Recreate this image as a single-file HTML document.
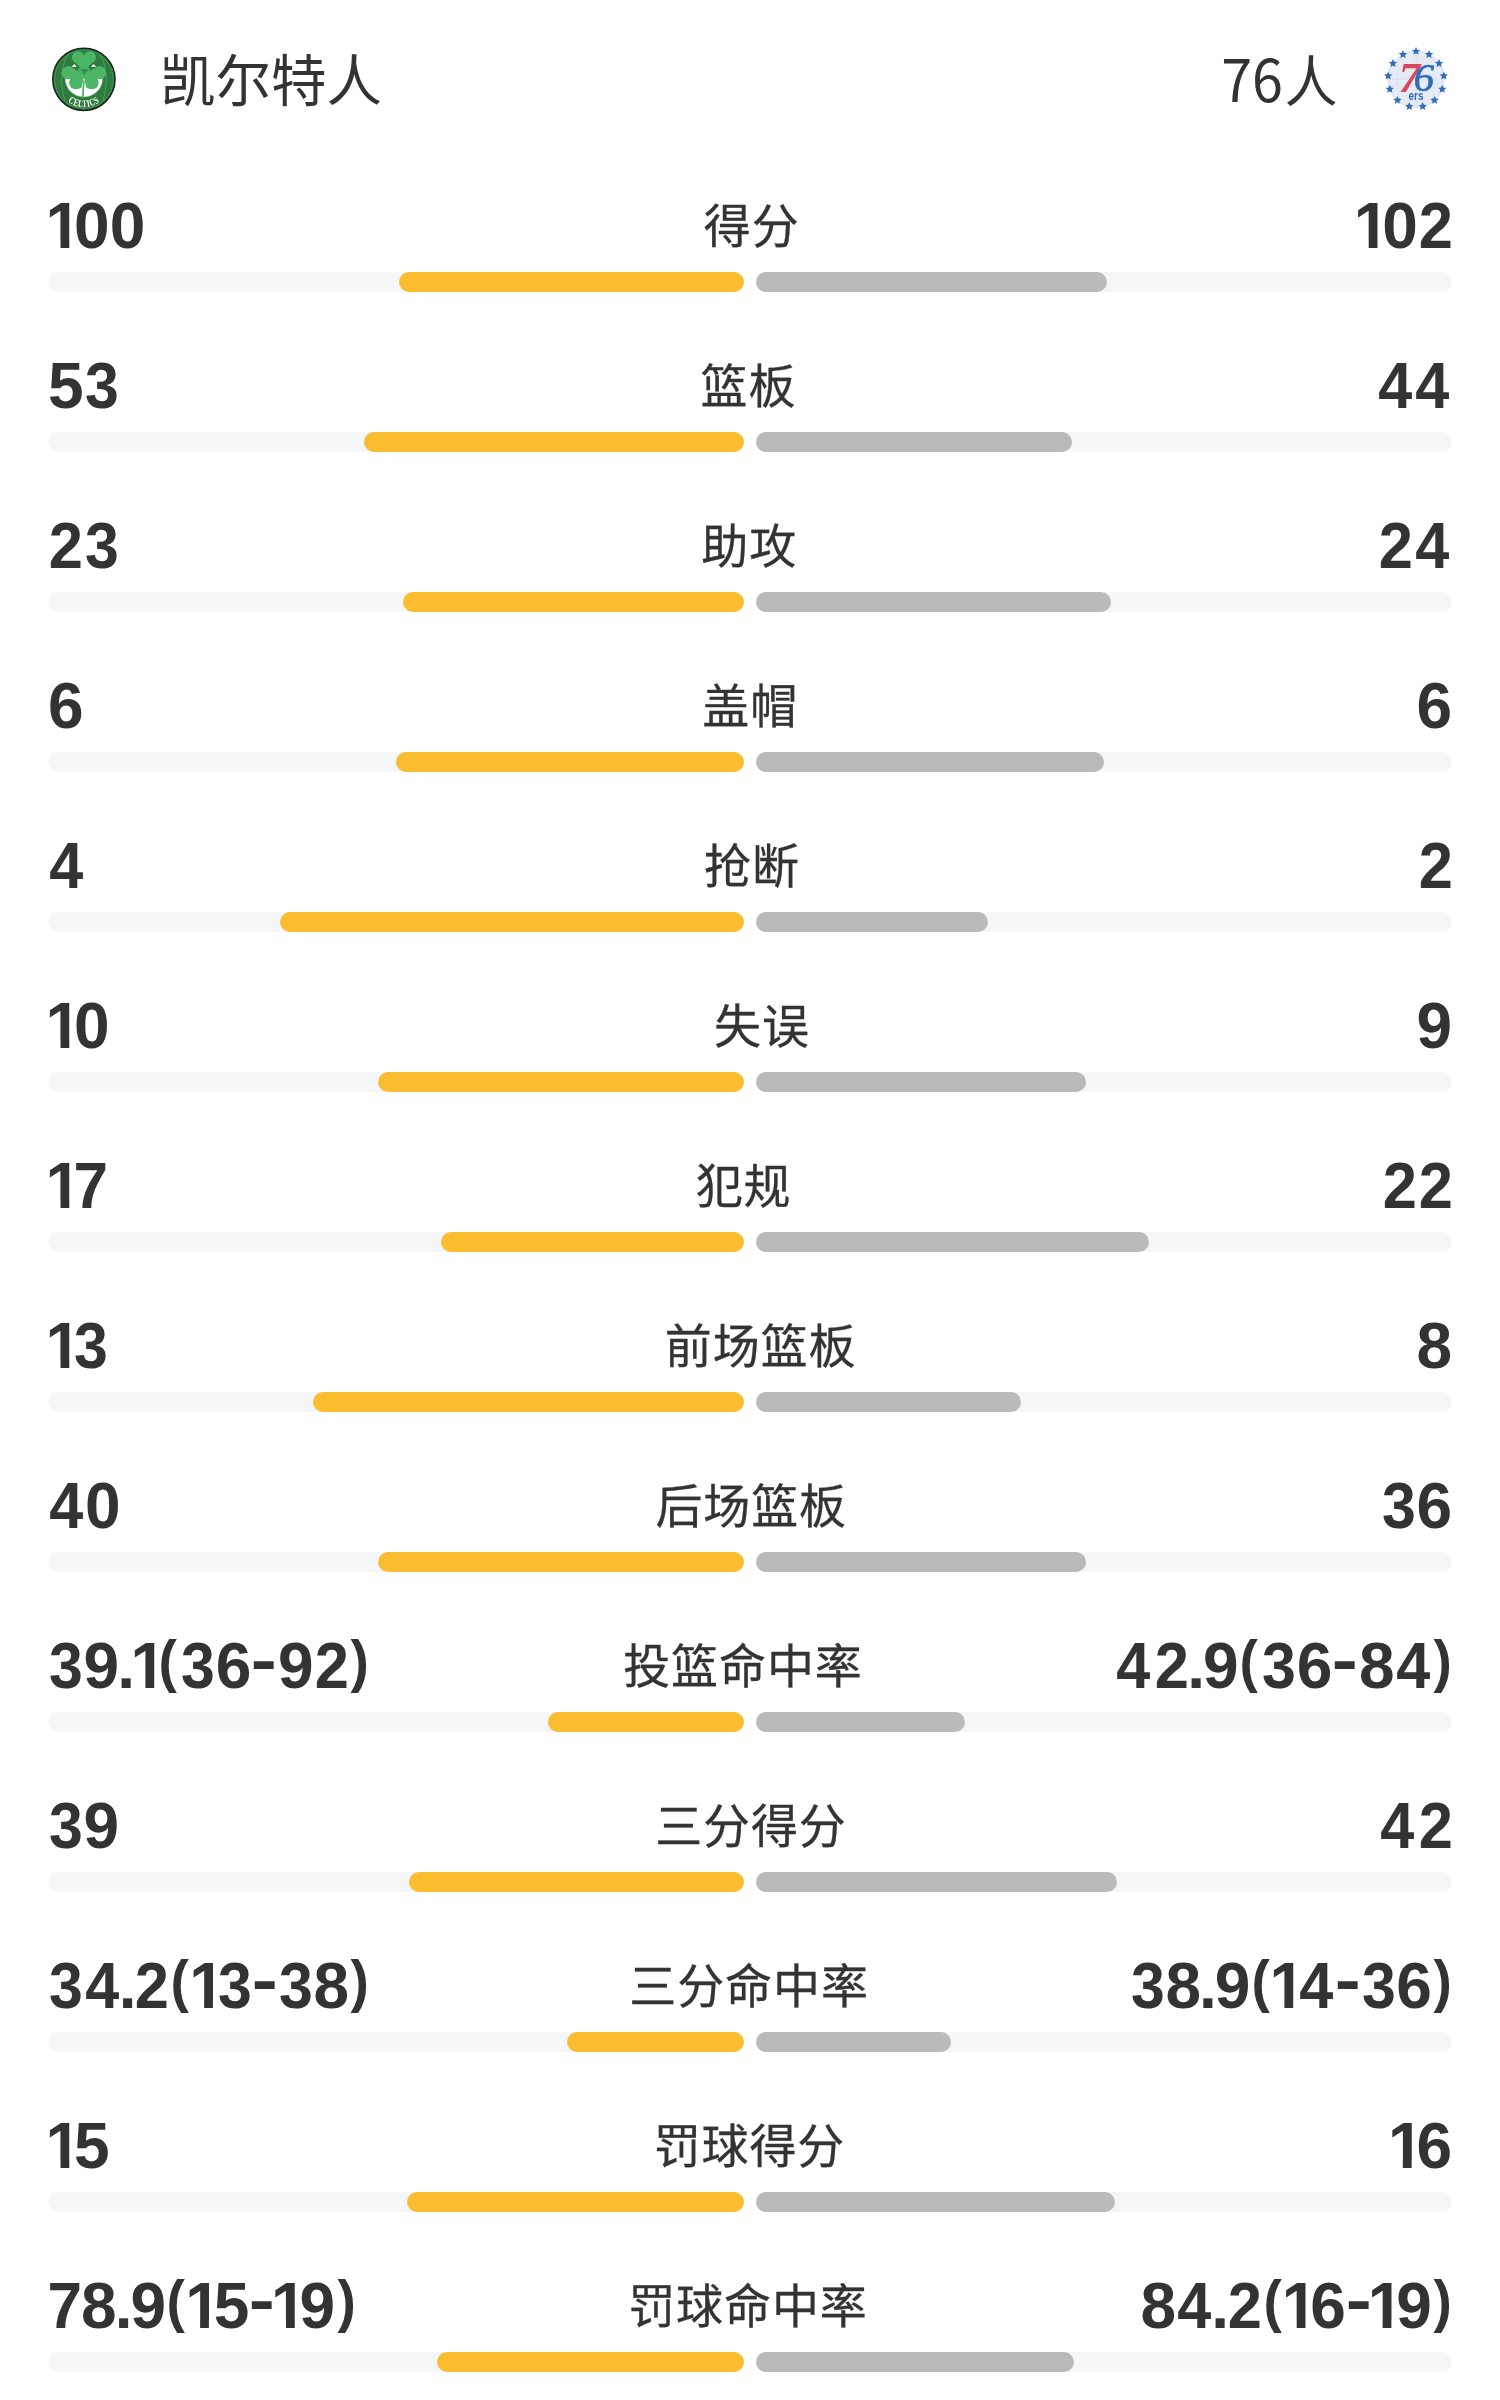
<!DOCTYPE html>
<html lang="zh-CN"><head><meta charset="utf-8"><title>球队数据对比</title>
<style>
*{margin:0;padding:0;box-sizing:border-box}
html,body{width:1500px;height:2400px;background:#fff;overflow:hidden}
body{position:relative;will-change:transform;font-family:"Liberation Sans","Noto Sans CJK SC",sans-serif;color:#333}
.hdr{position:absolute;left:0;top:0;width:1500px;height:160px}
.tname{position:absolute;font-family:"Noto Sans CJK SC",sans-serif;font-size:55.5px;line-height:64px;color:#333;white-space:nowrap}
.d76{display:inline-block;font-size:58.5px;transform-origin:100% 50%;transform:scaleX(0.95);margin-right:-0.9px}
.ren{display:inline-block;transform-origin:100% 50%;transform:scaleX(0.95)}
.logo{position:absolute;display:block}
.row{position:absolute;left:48px;width:1404px;height:160px}
.vals{position:absolute;left:0;top:194px;width:1404px;height:64px;display:flex;align-items:flex-start}
.n{font-family:"Liberation Sans",sans-serif;font-weight:700;font-size:64px;line-height:64px;height:64px;white-space:nowrap;color:#333}
.n span{display:inline-block}
.g1{clip-path:polygon(0 0,100% 0,100% 47px,23.7px 47px,23.7px 100%,14.9px 100%,14.9px 47px,0 47px);margin-left:-2.4px;margin-right:-7.1px}
.g4{transform:translateX(0.4px) scaleX(0.955);margin-right:1.5px}
.g4.e{margin-right:2.4px}
.g2{transform:scaleX(0.96)}
.g2.e{margin-right:-1.5px}
.g3{transform:scaleX(0.95)}
.g7{margin-left:-1.5px;margin-right:-1px;transform:scaleX(0.97)}
.gd{margin-left:-2px;margin-right:-2.1px}
.gl{margin-left:-0.7px;margin-right:2px;transform-origin:50% 37.5px;transform:translateY(-5px) scale(0.86,0.883)}
.gr{margin-left:0.3px;margin-right:-1.4px;transform-origin:50% 37.5px;transform:translateY(-5px) scale(0.86,0.883)}
.gh{margin-left:2.1px;margin-right:3.3px;transform:translateY(-6.5px) scaleX(1.22)}
.lab{flex:1;text-align:center;font-family:"Noto Sans CJK SC",sans-serif;font-size:47px;line-height:58px;letter-spacing:0.9px;text-indent:0.9px;-webkit-text-stroke:0.3px #333;white-space:nowrap;color:#333}
.trk{position:absolute;top:272px;width:696px;height:20px;border-radius:10px;background:#f5f6f8}
.trk.l{left:0}
.trk.r{left:708px}
.trk i{position:absolute;top:0;height:20px;border-radius:10px;display:block}
.trk.l i{right:0;background:#fbbc2f}
.trk.r i{left:0;background:#bababa}
</style></head><body>
<div class="hdr">
<svg class="logo" style="left:44px;top:40px" width="80" height="80" viewBox="0 0 1500 1500"><defs><path id="cArc" d="M 228 738 A 520 520 0 0 0 1268 738"/></defs><circle cx="748" cy="738" r="584" fill="#2e7b3f" stroke="#17251b" stroke-width="28"/><circle cx="748" cy="738" r="548" fill="none" stroke="#62a870" stroke-width="10"/><path d="M 455 265 C 300 500 300 900 395 1130" fill="none" stroke="#5aa86a" stroke-width="14"/><path d="M 1041 265 C 1196 500 1196 900 1101 1130" fill="none" stroke="#5aa86a" stroke-width="14"/><path d="M 392 715 L 1104 715 A 356 356 0 0 1 392 715 Z" fill="#ffffff"/><path d="M 392 715 A 356 356 0 0 0 1104 715" fill="none" stroke="#3f9150" stroke-width="10"/><polygon points="515,500 575,450 610,505" fill="#ffffff"/><polygon points="981,500 921,450 886,505" fill="#ffffff"/><path d="M 748 760 L 728 1085" stroke="#4db566" stroke-width="34" fill="none"/><circle cx="640" cy="325" r="116" fill="#4db566"/><circle cx="858" cy="325" r="116" fill="#4db566"/><polygon points="526,345 972,345 750,600" fill="#4db566"/><circle cx="452" cy="612" r="122" fill="#4db566"/><circle cx="592" cy="800" r="122" fill="#4db566"/><polygon points="400,502 480,495 760,640 700,900 600,922" fill="#4db566"/><circle cx="1044" cy="612" r="122" fill="#4db566"/><circle cx="904" cy="800" r="122" fill="#4db566"/><polygon points="1096,502 1016,495 736,640 796,900 896,922" fill="#4db566"/><polygon points="640,520 860,520 840,700 660,700" fill="#4db566"/><polygon points="688,545 838,545 752,662" fill="#3a8a52"/><text font-family="Liberation Serif, serif" font-weight="700" font-size="190" fill="#ffffff" letter-spacing="10"><textPath href="#cArc" startOffset="50%" text-anchor="middle" textLength="640" lengthAdjust="spacingAndGlyphs">CELTICS</textPath></text></svg>
<div class="tname" style="left:160px;top:45px">凯尔特人</div>
<div class="tname" style="right:162px;top:45px"><span class="d76">76</span><span class="ren">人</span></div>
<svg class="logo" style="left:1376px;top:40px" width="80" height="80" viewBox="0 0 1500 1500"><circle cx="750" cy="735" r="532" fill="#e6eaf4" stroke="#d4dae7" stroke-width="12"/><path d="M 220 735 L 1280 735 M 750 205 L 750 1265" stroke="#d4dae7" stroke-width="10" fill="none"/><path d="M 470 265 C 380 500 380 970 470 1205 M 1030 265 C 1120 500 1120 970 1030 1205" stroke="#d4dae7" stroke-width="9" fill="none"/><polygon points="750.0,130.0 772.3,181.3 828.0,186.7 786.1,223.7 798.2,278.3 750.0,250.0 701.8,278.3 713.9,223.7 672.0,186.7 727.7,181.3" fill="#2f6db8"/><polygon points="994.0,190.1 1016.3,241.4 1072.0,246.8 1030.1,283.9 1042.2,338.5 994.0,310.1 945.8,338.5 957.8,283.9 916.0,246.8 971.6,241.4" fill="#2f6db8"/><polygon points="1182.1,356.8 1204.4,408.0 1260.1,413.4 1218.2,450.5 1230.3,505.1 1182.1,476.8 1133.9,505.1 1145.9,450.5 1104.1,413.4 1159.7,408.0" fill="#2f6db8"/><polygon points="1271.2,591.7 1293.5,643.0 1349.2,648.4 1307.3,685.5 1319.4,740.1 1271.2,711.7 1223.0,740.1 1235.0,685.5 1193.2,648.4 1248.8,643.0" fill="#2f6db8"/><polygon points="1240.9,841.2 1263.2,892.4 1318.9,897.8 1277.0,934.9 1289.1,989.5 1240.9,961.2 1192.7,989.5 1204.7,934.9 1162.9,897.8 1218.5,892.4" fill="#2f6db8"/><polygon points="1098.1,1048.0 1120.5,1099.2 1176.1,1104.6 1134.3,1141.7 1146.3,1196.3 1098.1,1168.0 1049.9,1196.3 1062.0,1141.7 1020.2,1104.6 1075.8,1099.2" fill="#2f6db8"/><polygon points="875.6,1164.7 898.0,1216.0 953.6,1221.4 911.8,1258.5 923.8,1313.1 875.6,1284.7 827.4,1313.1 839.5,1258.5 797.7,1221.4 853.3,1216.0" fill="#2f6db8"/><polygon points="624.4,1164.7 646.7,1216.0 702.3,1221.4 660.5,1258.5 672.6,1313.1 624.4,1284.7 576.2,1313.1 588.2,1258.5 546.4,1221.4 602.0,1216.0" fill="#2f6db8"/><polygon points="401.9,1048.0 424.2,1099.2 479.8,1104.6 438.0,1141.7 450.1,1196.3 401.9,1168.0 353.7,1196.3 365.7,1141.7 323.9,1104.6 379.5,1099.2" fill="#2f6db8"/><polygon points="259.1,841.2 281.5,892.4 337.1,897.8 295.3,934.9 307.3,989.5 259.1,961.2 210.9,989.5 223.0,934.9 181.1,897.8 236.8,892.4" fill="#2f6db8"/><polygon points="228.8,591.7 251.2,643.0 306.8,648.4 265.0,685.5 277.0,740.1 228.8,711.7 180.6,740.1 192.7,685.5 150.8,648.4 206.5,643.0" fill="#2f6db8"/><polygon points="317.9,356.8 340.3,408.0 395.9,413.4 354.1,450.5 366.1,505.1 317.9,476.8 269.7,505.1 281.8,450.5 239.9,413.4 295.6,408.0" fill="#2f6db8"/><polygon points="506.0,190.1 528.4,241.4 584.0,246.8 542.2,283.9 554.2,338.5 506.0,310.1 457.8,338.5 469.9,283.9 428.0,246.8 483.7,241.4" fill="#2f6db8"/><text x="625" y="968" text-anchor="middle" font-family="Liberation Serif, serif" font-style="italic" font-weight="700" font-size="800" fill="#d8475b">7</text><text x="900" y="948" text-anchor="middle" font-family="Liberation Serif, serif" font-style="italic" font-weight="400" font-size="760" fill="#2f6db8" stroke="#2f6db8" stroke-width="14">6</text><text x="750" y="1122" text-anchor="middle" font-family="Liberation Sans, sans-serif" font-weight="700" font-size="250" fill="#2f6db8" textLength="280" lengthAdjust="spacingAndGlyphs">ers</text></svg>
</div>
<div class="row" style="top:0px"><div class="vals"><span class="n"><span class="g1">1</span>00</span><span class="lab" style="position:relative;left:0.5px">得分</span><span class="n"><span class="g1">1</span>0<span class="g2 e">2</span></span></div><div class="trk l"><i style="width:344.55px"></i></div><div class="trk r"><i style="width:351.45px"></i></div></div>
<div class="row" style="top:160px"><div class="vals"><span class="n">5<span class="g3">3</span></span><span class="lab">篮板</span><span class="n"><span class="g4">4</span><span class="g4 e">4</span></span></div><div class="trk l"><i style="width:380.29px"></i></div><div class="trk r"><i style="width:315.71px"></i></div></div>
<div class="row" style="top:320px"><div class="vals"><span class="n"><span class="g2">2</span><span class="g3">3</span></span><span class="lab">助攻</span><span class="n"><span class="g2">2</span><span class="g4 e">4</span></span></div><div class="trk l"><i style="width:340.6px"></i></div><div class="trk r"><i style="width:355.4px"></i></div></div>
<div class="row" style="top:480px"><div class="vals"><span class="n">6</span><span class="lab" style="position:relative;left:-0.25px">盖帽</span><span class="n">6</span></div><div class="trk l"><i style="width:348.0px"></i></div><div class="trk r"><i style="width:348.0px"></i></div></div>
<div class="row" style="top:640px"><div class="vals"><span class="n"><span class="g4">4</span></span><span class="lab">抢断</span><span class="n"><span class="g2 e">2</span></span></div><div class="trk l"><i style="width:464.0px"></i></div><div class="trk r"><i style="width:232.0px"></i></div></div>
<div class="row" style="top:800px"><div class="vals"><span class="n"><span class="g1">1</span>0</span><span class="lab" style="position:relative;left:-1.5px">失误</span><span class="n">9</span></div><div class="trk l"><i style="width:366.32px"></i></div><div class="trk r"><i style="width:329.68px"></i></div></div>
<div class="row" style="top:960px"><div class="vals"><span class="n"><span class="g1">1</span><span class="g7">7</span></span><span class="lab" style="position:relative;left:-1.65px">犯规</span><span class="n"><span class="g2">2</span><span class="g2 e">2</span></span></div><div class="trk l"><i style="width:303.38px"></i></div><div class="trk r"><i style="width:392.62px"></i></div></div>
<div class="row" style="top:1120px"><div class="vals"><span class="n"><span class="g1">1</span><span class="g3" style="margin-left:-1.0px">3</span></span><span class="lab" style="position:relative;left:-2.35px">前场篮板</span><span class="n">8</span></div><div class="trk l"><i style="width:430.86px"></i></div><div class="trk r"><i style="width:265.14px"></i></div></div>
<div class="row" style="top:1280px"><div class="vals"><span class="n"><span class="g4">4</span>0</span><span class="lab">后场篮板</span><span class="n"><span class="g3">3</span>6</span></div><div class="trk l"><i style="width:366.32px"></i></div><div class="trk r"><i style="width:329.68px"></i></div></div>
<div class="row" style="top:1440px"><div class="vals"><span class="n"><span class="g3">3</span>9<span class="gd">.</span><span class="g1">1</span><span class="gl" style="margin-left:-2.2px">(</span><span class="g3">3</span>6<span class="gh">-</span>9<span class="g2">2</span><span class="gr">)</span></span><span class="lab" style="position:relative;left:0.5px">投篮命中率</span><span class="n"><span class="g4">4</span><span class="g2" style="margin-left:2.0px">2</span><span class="gd">.</span>9<span class="gl">(</span><span class="g3">3</span>6<span class="gh">-</span>8<span class="g4">4</span><span class="gr">)</span></span></div><div class="trk l"><i style="width:195.75px"></i></div><div class="trk r"><i style="width:208.8px"></i></div></div>
<div class="row" style="top:1600px"><div class="vals"><span class="n"><span class="g3">3</span>9</span><span class="lab" style="position:relative;left:1.5px">三分得分</span><span class="n"><span class="g4">4</span><span class="g2 e" style="margin-left:2.0px">2</span></span></div><div class="trk l"><i style="width:335.11px"></i></div><div class="trk r"><i style="width:360.89px"></i></div></div>
<div class="row" style="top:1760px"><div class="vals"><span class="n"><span class="g3">3</span><span class="g4">4</span><span class="gd">.</span><span class="g2">2</span><span class="gl">(</span><span class="g1" style="margin-left:-3.4px">1</span><span class="g3" style="margin-left:-1.0px">3</span><span class="gh">-</span><span class="g3" style="margin-left:-1.2px">3</span>8<span class="gr">)</span></span><span class="lab" style="position:relative;left:-0.9px">三分命中率</span><span class="n"><span class="g3">3</span>8<span class="gd">.</span>9<span class="gl">(</span><span class="g1" style="margin-left:-3.4px">1</span><span class="g4">4</span><span class="gh">-</span><span class="g3" style="margin-left:-1.2px">3</span>6<span class="gr">)</span></span></div><div class="trk l"><i style="width:177.41px"></i></div><div class="trk r"><i style="width:194.88px"></i></div></div>
<div class="row" style="top:1920px"><div class="vals"><span class="n"><span class="g1">1</span>5</span><span class="lab" style="position:relative;left:-1px">罚球得分</span><span class="n"><span class="g1">1</span>6</span></div><div class="trk l"><i style="width:336.77px"></i></div><div class="trk r"><i style="width:359.23px"></i></div></div>
<div class="row" style="top:2080px"><div class="vals"><span class="n"><span class="g7">7</span>8<span class="gd">.</span>9<span class="gl">(</span><span class="g1" style="margin-left:-3.4px">1</span>5<span class="gh">-</span><span class="g1" style="margin-left:-4.9px">1</span>9<span class="gr">)</span></span><span class="lab" style="position:relative;left:-0.5px">罚球命中率</span><span class="n">8<span class="g4">4</span><span class="gd">.</span><span class="g2">2</span><span class="gl">(</span><span class="g1" style="margin-left:-3.4px">1</span>6<span class="gh">-</span><span class="g1" style="margin-left:-4.9px">1</span>9<span class="gr">)</span></span></div><div class="trk l"><i style="width:307.06px"></i></div><div class="trk r"><i style="width:318.17px"></i></div></div>
</body></html>
